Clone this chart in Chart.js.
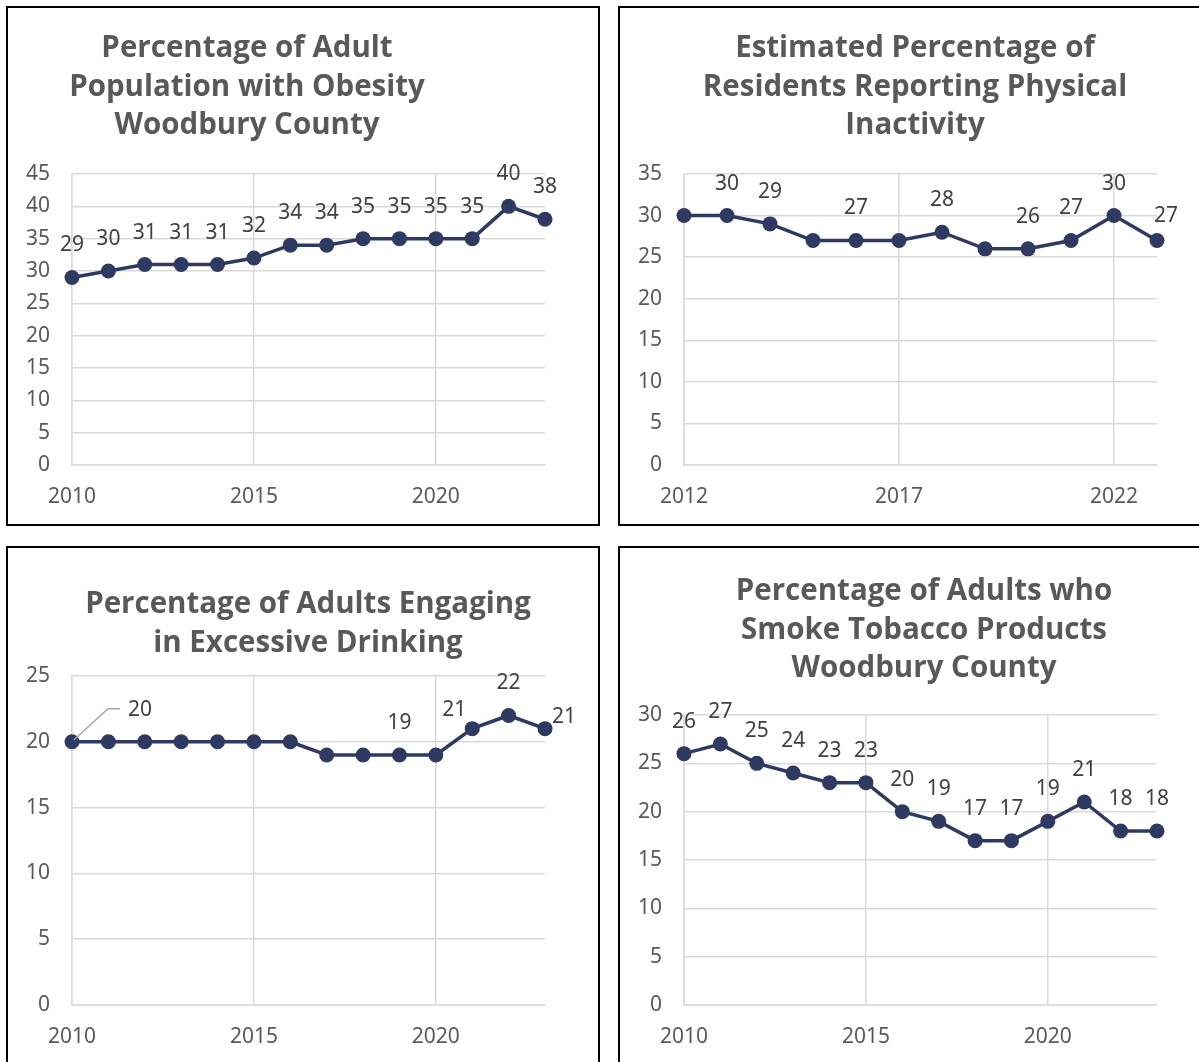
<!DOCTYPE html>
<html>
<head>
<meta charset="utf-8">
<script src="https://cdn.jsdelivr.net/npm/chart.js@4.4.0/dist/chart.umd.min.js"></script>
<style>
  html, body { margin: 0; padding: 0; background: #fff; overflow: hidden; }
  body { width: 1199px; height: 1062px; position: relative; }
  .panel { position: absolute; border: 2px solid #000; box-sizing: border-box; background: #fff; }
  .panel canvas { position: absolute; left: 0; top: 0; }
</style>
</head>
<body>
<div class="panel" style="left:6px; top:6px; width:594px; height:520px;"><canvas id="obesityChart"></canvas></div>
<div class="panel" style="left:618px; top:6px; width:584px; height:520px;"><canvas id="inactivityChart"></canvas></div>
<div class="panel" style="left:6px; top:546px; width:594px; height:530px;"><canvas id="drinkingChart"></canvas></div>
<div class="panel" style="left:618px; top:546px; width:584px; height:530px;"><canvas id="smokingChart"></canvas></div>

<script>
// data
const obesityYears = [2010, 2011, 2012, 2013, 2014, 2015, 2016, 2017, 2018, 2019, 2020, 2021, 2022, 2023];
const obesityValues = [29, 30, 31, 31, 31, 32, 34, 34, 35, 35, 35, 35, 40, 38];
const obesityXTicks = [2010, 2015, 2020];
const obesityYMax = 45;

const inactivityYears = [2012, 2013, 2014, 2015, 2016, 2017, 2018, 2019, 2020, 2021, 2022, 2023];
const inactivityValues = [30, 30, 29, 27, 27, 27, 28, 26, 26, 27, 30, 27];
const inactivityXTicks = [2012, 2017, 2022];
const inactivityYMax = 35;

const drinkingYears = [2010, 2011, 2012, 2013, 2014, 2015, 2016, 2017, 2018, 2019, 2020, 2021, 2022, 2023];
const drinkingValues = [20, 20, 20, 20, 20, 20, 20, 19, 19, 19, 19, 21, 22, 21];
const drinkingXTicks = [2010, 2015, 2020];
const drinkingYMax = 25;

const smokingYears = [2010, 2011, 2012, 2013, 2014, 2015, 2016, 2017, 2018, 2019, 2020, 2021, 2022, 2023];
const smokingValues = [26, 27, 25, 24, 23, 23, 20, 19, 17, 17, 19, 21, 18, 18];
const smokingXTicks = [2010, 2015, 2020];
const smokingYMax = 30;

const LINE_COLOR = '#2E3A62';
const GRID_COLOR = '#D9D9D9';
const TEXT_COLOR = '#595959';
const LABEL_COLOR = '#404040';
const TICK_FONT = "'Noto Sans', 'Open Sans', sans-serif";
const TITLE_FONT = "'Open Sans', 'Noto Sans', sans-serif";

// title drawn at its own centre, like the moved Excel titles
const panelTitlePlugin = {
    id: 'panelTitle',
    afterDraw(chart, args, opts) {
        if (!opts || !opts.lines) return;
        const ctx = chart.ctx;
        ctx.save();
        ctx.fillStyle = TEXT_COLOR;
        ctx.font = "bold 29.5px " + TITLE_FONT;
        ctx.textAlign = 'center';
        ctx.textBaseline = 'alphabetic';
        opts.lines.forEach((line, i) => {
            ctx.fillText(line, opts.x, opts.y + i * opts.lineHeight);
        });
        ctx.restore();
    }
};

// value labels above the points
const valueLabelPlugin = {
    id: 'valueLabels',
    afterDatasetsDraw(chart, args, opts) {
        const ctx = chart.ctx;
        const meta = chart.getDatasetMeta(0);
        const values = chart.data.datasets[0].data;
        const hide = opts.hide || [];
        const offsets = opts.offsets || {};
        ctx.save();
        ctx.font = "21px " + TICK_FONT;
        ctx.fillStyle = LABEL_COLOR;
        ctx.textAlign = 'center';
        ctx.textBaseline = 'middle';
        meta.data.forEach((pt, i) => {
            if (hide.includes(i)) return;
            const off = offsets[i] || [0, -32];
            if (opts.leader && opts.leader[i]) {
                const l = opts.leader[i];
                ctx.strokeStyle = '#A6A6A6';
                ctx.lineWidth = 1.5;
                ctx.beginPath();
                ctx.moveTo(pt.x + 2, pt.y - 2);
                ctx.lineTo(pt.x + l[0], pt.y + l[1]);
                ctx.lineTo(pt.x + l[2], pt.y + l[1]);
                ctx.stroke();
            }
            ctx.fillText(String(values[i].y), pt.x + off[0], pt.y + off[1]);
        });
        ctx.restore();
    }
};

let charts = {};

function createOrUpdateChart(elementId, cfg) {
    if (charts[elementId]) {
        charts[elementId].destroy();
        delete charts[elementId];
    }
    const canvas = document.getElementById(elementId);
    canvas.width = cfg.width;
    canvas.height = cfg.height;
    canvas.style.width = cfg.width + 'px';
    canvas.style.height = cfg.height + 'px';

    const points = cfg.years.map((yr, i) => ({ x: yr, y: cfg.values[i] }));
    const areaLeft = 64, areaRight = 537, areaBottom = 457, xAxisH = 44;

    charts[elementId] = new Chart(canvas.getContext('2d'), {
        type: 'line',
        data: {
            datasets: [{
                data: points,
                borderColor: LINE_COLOR,
                backgroundColor: LINE_COLOR,
                borderWidth: 3.5,
                pointRadius: 7.5,
                pointBorderWidth: 0,
                pointBackgroundColor: LINE_COLOR,
                tension: 0,
                clip: false
            }]
        },
        options: {
            responsive: false,
            animation: false,
            layout: {
                padding: {
                    left: 0,
                    right: cfg.width - areaRight,
                    top: cfg.areaTop,
                    bottom: cfg.height - areaBottom - xAxisH
                }
            },
            plugins: {
                legend: { display: false },
                tooltip: { enabled: false },
                title: { display: false },
                panelTitle: cfg.title,
                valueLabels: cfg.labels
            },
            scales: {
                x: {
                    type: 'linear',
                    min: cfg.years[0],
                    max: cfg.years[cfg.years.length - 1],
                    afterBuildTicks: (scale) => {
                        scale.ticks = cfg.xTicks.map(v => ({ value: v }));
                    },
                    afterFit: (scale) => { scale.height = xAxisH; },
                    ticks: {
                        callback: (v) => String(v),
                        color: TEXT_COLOR,
                        font: { family: TICK_FONT, size: 21 },
                        padding: 19,
                        maxRotation: 0,
                        autoSkip: false
                    },
                    grid: { color: GRID_COLOR, lineWidth: 1.5, drawTicks: false },
                    border: { color: GRID_COLOR, width: 1.5 }
                },
                y: {
                    min: 0,
                    max: cfg.yMax,
                    afterFit: (scale) => { scale.width = areaLeft; },
                    ticks: {
                        stepSize: 5,
                        color: TEXT_COLOR,
                        font: { family: TICK_FONT, size: 21 },
                        padding: 22
                    },
                    grid: { color: GRID_COLOR, lineWidth: 1.5, drawTicks: false },
                    border: { color: GRID_COLOR, width: 1.5 }
                }
            }
        },
        plugins: [panelTitlePlugin, valueLabelPlugin]
    });
}

createOrUpdateChart('obesityChart', {
    width: 590, height: 516, areaTop: 166,
    years: obesityYears, values: obesityValues, xTicks: obesityXTicks, yMax: obesityYMax,
    title: { lines: ['Percentage of Adult', 'Population with Obesity', 'Woodbury County'], x: 239, y: 49, lineHeight: 38.5 },
    labels: {}
});

createOrUpdateChart('inactivityChart', {
    width: 580, height: 516, areaTop: 166,
    years: inactivityYears, values: inactivityValues, xTicks: inactivityXTicks, yMax: inactivityYMax,
    title: { lines: ['Estimated Percentage of', 'Residents Reporting Physical', 'Inactivity'], x: 295, y: 49, lineHeight: 38.5 },
    labels: { hide: [0, 3, 5, 7], offsets: { 11: [9, -24] } }
});

createOrUpdateChart('drinkingChart', {
    width: 590, height: 526, areaTop: 128,
    years: drinkingYears, values: drinkingValues, xTicks: drinkingXTicks, yMax: drinkingYMax,
    title: { lines: ['Percentage of Adults Engaging', 'in Excessive Drinking'], x: 300, y: 65, lineHeight: 38.5 },
    labels: {
        hide: [1, 2, 3, 4, 5, 6, 7, 8, 10],
        offsets: { 0: [68, -32], 11: [-18, -19], 13: [19, -12] },
        leader: { 0: [36, -33, 48] }
    }
});

createOrUpdateChart('smokingChart', {
    width: 580, height: 526, areaTop: 167,
    years: smokingYears, values: smokingValues, xTicks: smokingXTicks, yMax: smokingYMax,
    title: { lines: ['Percentage of Adults who', 'Smoke Tobacco Products', 'Woodbury County'], x: 304, y: 52, lineHeight: 38.5 },
    labels: {}
});
</script>
</body>
</html>
